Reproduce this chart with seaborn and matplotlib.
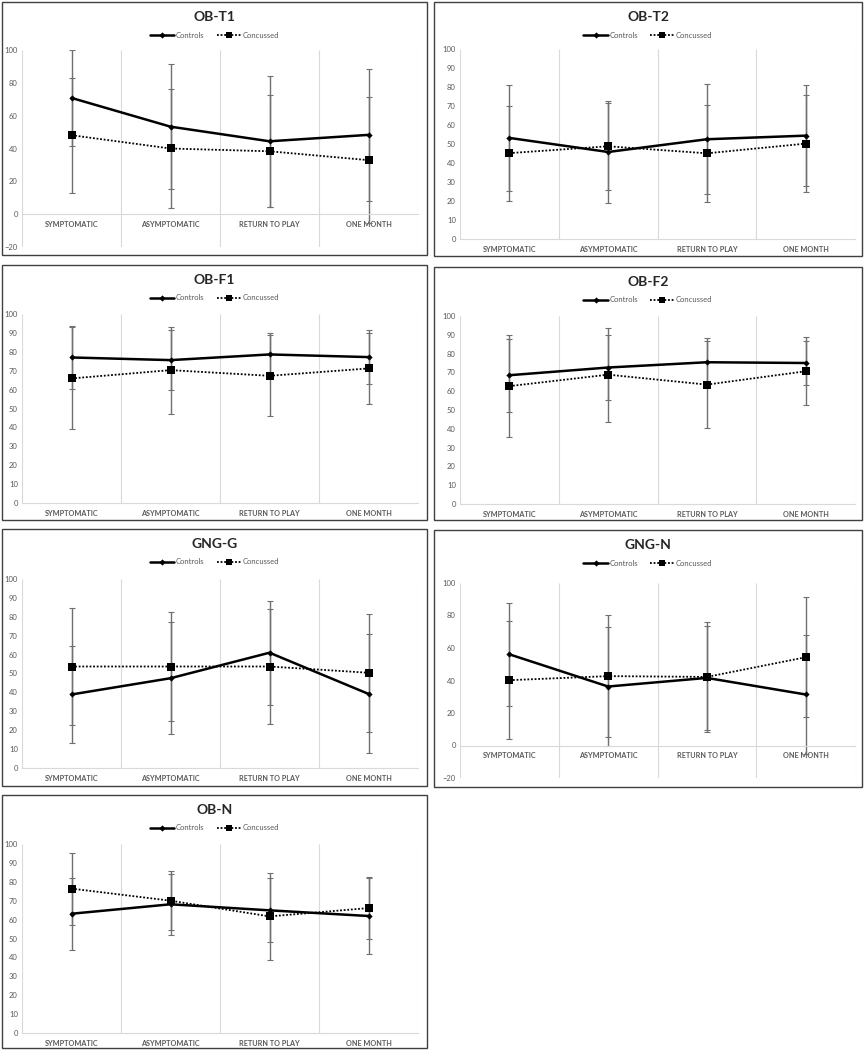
import matplotlib
matplotlib.use('Agg')
import matplotlib.pyplot as plt
from matplotlib.patches import Rectangle
from matplotlib.lines import Line2D
import seaborn as sns
import pandas as pd
import numpy as np

timepoints = ['SYMPTOMATIC', 'ASYMPTOMATIC', 'RETURN TO PLAY', 'ONE MONTH']
panels = ['OB-T1', 'OB-T2', 'OB-F1', 'OB-F2', 'GNG-G', 'GNG-N', 'OB-N']

controls_mean = {'OB-T1': [70.8, 53.3, 44.4, 48.3],
                 'OB-T2': [53.2, 45.8, 52.5, 54.4],
                 'OB-F1': [77.0, 75.6, 78.6, 77.2],
                 'OB-F2': [68.5, 72.6, 75.4, 75.0],
                 'GNG-G': [38.9, 47.5, 61.0, 39.2],
                 'GNG-N': [56.1, 36.3, 41.6, 31.4],
                 'OB-N': [63.1, 68.1, 64.9, 61.9]}
controls_sd = {'OB-T1': [29.0, 38.0, 40.0, 40.0],
               'OB-T2': [28.0, 27.0, 29.0, 26.5],
               'OB-F1': [16.5, 16.0, 11.5, 14.5],
               'OB-F2': [19.5, 17.5, 13.0, 11.5],
               'GNG-G': [25.8, 29.5, 27.5, 31.5],
               'GNG-N': [31.5, 36.8, 32.0, 36.8],
               'OB-N': [19.0, 16.0, 17.0, 20.3]}
concussed_mean = {'OB-T1': [48.1, 40.0, 38.3, 32.9],
                  'OB-T2': [45.2, 48.8, 45.1, 50.2],
                  'OB-F1': [65.9, 70.3, 67.3, 71.2],
                  'OB-F2': [62.7, 68.8, 63.5, 70.6],
                  'GNG-G': [53.7, 53.7, 53.7, 50.4],
                  'GNG-N': [40.2, 42.7, 42.2, 54.3],
                  'OB-N': [76.4, 70.0, 61.7, 66.1]}
concussed_sd = {'OB-T1': [35.0, 36.0, 34.0, 38.5],
                'OB-T2': [25.0, 23.0, 25.5, 25.5],
                'OB-F1': [27.0, 23.0, 21.5, 19.0],
                'OB-F2': [27.0, 25.0, 23.0, 18.0],
                'GNG-G': [30.8, 29.0, 30.5, 31.3],
                'GNG-N': [36.5, 37.5, 33.6, 37.0],
                'OB-N': [19.0, 15.5, 23.0, 16.3]}
y_axis = {'OB-T1': (-20, 100, 20), 'OB-T2': (0, 100, 10),
          'OB-F1': (0, 100, 10), 'OB-F2': (0, 100, 10),
          'GNG-G': (0, 100, 10), 'GNG-N': (-20, 100, 20),
          'OB-N': (0, 100, 10)}

# layout in pixels: box (x0, y0, x1, y1), plot area (x0, top, x1, bottom)
W, H = 864, 1050
boxes = {'OB-T1': (2, 2, 427, 255), 'OB-T2': (434, 2, 862, 256),
         'OB-F1': (2, 265, 427, 520), 'OB-F2': (434, 267, 862, 520),
         'GNG-G': (2, 529, 427, 786), 'GNG-N': (434, 530, 862, 787),
         'OB-N': (2, 795, 427, 1048)}
areas = {'OB-T1': (22, 50, 418, 247), 'OB-T2': (460, 49, 855, 239),
         'OB-F1': (22, 314, 418, 503), 'OB-F2': (460, 316, 855, 504),
         'GNG-G': (22, 579, 418, 768), 'GNG-N': (460, 583, 855, 778),
         'OB-N': (22, 844, 418, 1033)}

sns.set_style('white')
plt.rcParams['font.family'] = ['Lato', 'DejaVu Sans']

fig = plt.figure(figsize=(W / 100, H / 100), dpi=100)
grey = '#595959'
light = '#d9d9d9'

for panel in panels:
    rows = []
    for i, tp in enumerate(timepoints):
        rows.append({'pos': i, 'timepoint': tp, 'group': 'Controls',
                     'mean': controls_mean[panel][i], 'sd': controls_sd[panel][i]})
        rows.append({'pos': i, 'timepoint': tp, 'group': 'Concussed',
                     'mean': concussed_mean[panel][i], 'sd': concussed_sd[panel][i]})
    df = pd.DataFrame(rows)

    ax0, top, ax1, bottom = areas[panel]
    ax = fig.add_axes([ax0 / W, 1 - bottom / H, (ax1 - ax0) / W, (bottom - top) / H])
    ymin, ymax, step = y_axis[panel]

    ax.vlines(np.arange(-0.5, 4, 1), ymin, ymax, color=light, lw=0.8, zorder=0)
    for grp in ['Controls', 'Concussed']:
        sub = df[df['group'] == grp]
        ax.errorbar(sub['pos'], sub['mean'], yerr=sub['sd'], fmt='none',
                    ecolor='#707070', elinewidth=1.0, capsize=2, capthick=0.8,
                    zorder=1)
    sns.lineplot(data=df[df['group'] == 'Controls'], x='pos', y='mean',
                 color='black', marker='D', markersize=3.2, linewidth=1.8,
                 markeredgewidth=0, ax=ax, zorder=3)
    sns.lineplot(data=df[df['group'] == 'Concussed'], x='pos', y='mean',
                 color='black', marker='s', markersize=5.5, linewidth=1.3,
                 linestyle=(0, (1, 1)), markeredgewidth=0, ax=ax, zorder=3)

    # spine position first: it resets the ticks
    for s in ['top', 'right', 'left']:
        ax.spines[s].set_visible(False)
    ax.spines['bottom'].set_position(('data', 0))
    ax.spines['bottom'].set_color(light)
    ax.spines['bottom'].set_linewidth(0.8)

    ax.set_xlim(-0.5, 3.5)
    ax.set_ylim(ymin, ymax)
    ax.set_yticks(np.arange(ymin, ymax + 1, step))
    ax.set_xticks(range(4))
    ax.set_xticklabels(timepoints, fontsize=5.2, fontweight='bold', color=grey)
    ax.tick_params(axis='y', labelsize=5.5, labelcolor=grey, length=0, pad=3)
    ax.tick_params(axis='x', length=0, pad=5)
    ax.set_xlabel('')
    ax.set_ylabel('')

    bx0, by0, bx1, by1 = boxes[panel]
    fig.add_artist(Rectangle((bx0 / W, 1 - by1 / H), (bx1 - bx0) / W, (by1 - by0) / H,
                             transform=fig.transFigure, fill=False,
                             edgecolor='#404040', lw=1.0))
    cx = (bx0 + bx1) / 2 / W
    fig.text(cx, 1 - (by0 + 15) / H, panel, ha='center', va='center',
             fontsize=10, fontweight='bold', color='#262626')
    handles = [Line2D([], [], color='black', lw=1.8, marker='D', ms=3.2, mew=0),
               Line2D([], [], color='black', lw=1.3, ls=(0, (1, 1)), marker='s',
                      ms=5, mew=0)]
    ax.legend(handles, ['Controls', 'Concussed'], loc='center',
              bbox_to_anchor=(cx, 1 - (by0 + 33) / H), bbox_transform=fig.transFigure,
              ncol=2, frameon=False, fontsize=5.5, handlelength=3.2,
              handletextpad=0.2, columnspacing=1.6, labelcolor=grey)

fig.savefig('out.png', dpi=100)
